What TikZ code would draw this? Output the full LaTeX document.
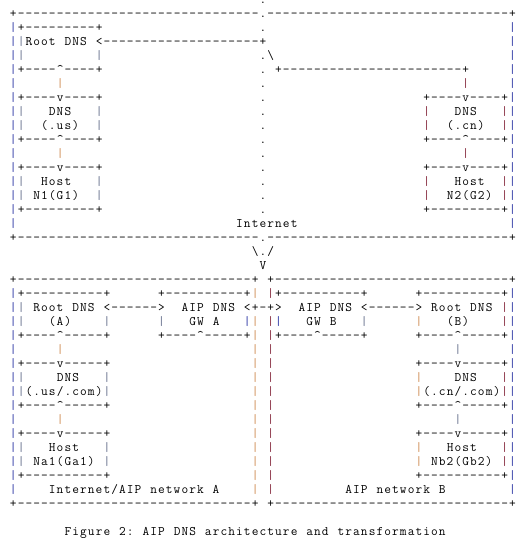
\documentclass[tikz,border=0pt]{standalone}
\usepackage{xcolor}
\definecolor{cb}{RGB}{35,45,160}
\definecolor{cg}{RGB}{95,105,135}
\definecolor{co}{RGB}{205,135,75}
\definecolor{cr}{RGB}{130,35,55}
\ExplSyntaxOn
\cs_new:Npn \Rp #1#2 { \prg_replicate:nn {#1} {#2} }
\ExplSyntaxOff
\protected\def\VB{\textcolor{cb}{|}}
\protected\def\VG{\textcolor{cg}{|}}
\protected\def\VO{\textcolor{co}{|}}
\protected\def\VR{\textcolor{cr}{|}}
\protected\def\CI{\textasciicircum}
\protected\def\BS{\textbackslash}
\def\stopchars{\stopchars}
\newcommand\cellbox[1]{\makebox[7.8pt][c]{\ifx*#1\else#1\fi}}
\def\charloop#1{\ifx#1\stopchars\else\cellbox{#1}\expandafter\charloop\fi}
\newcommand\asciirow[2]{\edef\rowtmp{#2}%
  \node[rowtxt] (r#1) at ({1.6pt},{-(14*#1+3.5)*1pt}) {\expandafter\charloop\rowtmp\stopchars};}
\tikzset{rowtxt/.style={anchor=base west, inner sep=0pt, outer sep=0pt,
  font=\ttfamily\fontsize{13pt}{14pt}\selectfont}}
\begin{document}
\begin{tikzpicture}
\fill[white] (0,0) rectangle (525pt,-546pt);
\useasboundingbox (0,0) rectangle (525pt,-546pt);
\asciirow{0}{\Rp{33}{*}.}
\asciirow{1}{*+\Rp{31}{-}.\Rp{31}{-}+}
\asciirow{2}{*\VB+\Rp{9}{-}+\Rp{20}{*}.\Rp{31}{*}\VB}
\asciirow{3}{*\VB\VG Root*DNS*<\Rp{20}{-}+\Rp{31}{*}\VB}
\asciirow{4}{*\VB\VG\Rp{9}{*}\VG\Rp{20}{*}.\BS\Rp{30}{*}\VB}
\asciirow{5}{*\VB+\Rp{4}{-}\CI\Rp{4}{-}+\Rp{20}{*}.*+\Rp{23}{-}+\Rp{5}{*}\VB}
\asciirow{6}{*\VB\Rp{5}{*}\VO\Rp{25}{*}.\Rp{25}{*}\VR\Rp{5}{*}\VB}
\asciirow{7}{*\VB+\Rp{4}{-}v\Rp{4}{-}+\Rp{20}{*}.\Rp{20}{*}+\Rp{4}{-}v\Rp{4}{-}+\VB}
\asciirow{8}{*\VB\VG\Rp{3}{*}DNS\Rp{3}{*}\VG\Rp{20}{*}.\Rp{20}{*}\VR\Rp{3}{*}DNS\Rp{3}{*}\VR\VB}
\asciirow{9}{*\VB\VG**(.us)**\VG\Rp{20}{*}.\Rp{20}{*}\VR**(.cn)**\VR\VB}
\asciirow{10}{*\VB+\Rp{4}{-}\CI\Rp{4}{-}+\Rp{20}{*}.\Rp{20}{*}+\Rp{4}{-}\CI\Rp{4}{-}+\VB}
\asciirow{11}{*\VB\Rp{5}{*}\VO\Rp{25}{*}.\Rp{25}{*}\VR\Rp{5}{*}\VB}
\asciirow{12}{*\VB+\Rp{4}{-}v\Rp{4}{-}+\Rp{20}{*}.\Rp{20}{*}+\Rp{4}{-}v\Rp{4}{-}+\VB}
\asciirow{13}{*\VB\VG**Host***\VG\Rp{20}{*}.\Rp{20}{*}\VR***Host**\VR\VB}
\asciirow{14}{*\VB\VG*N1(G1)**\VG\Rp{20}{*}.\Rp{20}{*}\VR**N2(G2)*\VR\VB}
\asciirow{15}{*\VB+\Rp{9}{-}+\Rp{20}{*}.\Rp{20}{*}+\Rp{9}{-}+\VB}
\asciirow{16}{*\VB\Rp{28}{*}Internet\Rp{27}{*}\VB}
\asciirow{17}{*+\Rp{31}{-}.\Rp{31}{-}+}
\asciirow{18}{\Rp{32}{*}\BS./}
\asciirow{19}{\Rp{33}{*}V}
\asciirow{20}{*+\Rp{30}{-}+*+\Rp{30}{-}+}
\asciirow{21}{*\VB+\Rp{10}{-}+\Rp{6}{*}+\Rp{10}{-}+\VO*\VR+\Rp{10}{-}+\Rp{6}{*}+\Rp{10}{-}+\VB}
\asciirow{22}{*\VB\VG*Root*DNS*<\Rp{6}{-}>**AIP*DNS*<+-+>**AIP*DNS*<\Rp{6}{-}>*Root*DNS*\VR\VB}
\asciirow{23}{*\VB\VG***(A)****\VG\Rp{6}{*}\VG***GW*A***\VB\VO*\VR\VB***GW*B***\VG\Rp{6}{*}\VO***(B)****\VR\VB}
\asciirow{24}{*\VB+\Rp{4}{-}\CI\Rp{5}{-}+\Rp{6}{*}+\Rp{4}{-}\CI\Rp{5}{-}+\VO*\VR+\Rp{4}{-}\CI\Rp{5}{-}+\Rp{6}{*}+\Rp{4}{-}\CI\Rp{5}{-}+\VB}
\asciirow{25}{*\VB\Rp{5}{*}\VO\Rp{24}{*}\VO*\VR\Rp{23}{*}\VG\Rp{6}{*}\VB}
\asciirow{26}{*\VB+\Rp{4}{-}v\Rp{5}{-}+\Rp{18}{*}\VO*\VR\Rp{18}{*}+\Rp{4}{-}v\Rp{5}{-}+\VB}
\asciirow{27}{*\VB\VG****DNS***\VG\Rp{18}{*}\VO*\VR\Rp{18}{*}\VO****DNS***\VR\VB}
\asciirow{28}{*\VB\VG(.us/.com)\VG\Rp{18}{*}\VO*\VR\Rp{18}{*}\VO(.cn/.com)\VR\VB}
\asciirow{29}{*\VB+\Rp{4}{-}\CI\Rp{5}{-}+\Rp{18}{*}\VO*\VR\Rp{18}{*}+\Rp{4}{-}\CI\Rp{5}{-}+\VB}
\asciirow{30}{*\VB\Rp{5}{*}\VO\Rp{24}{*}\VO*\VR\Rp{23}{*}\VG\Rp{6}{*}\VB}
\asciirow{31}{*\VB+\Rp{4}{-}v\Rp{5}{-}+\Rp{18}{*}\VO*\VR\Rp{18}{*}+\Rp{4}{-}v\Rp{5}{-}+\VB}
\asciirow{32}{*\VB\VG***Host***\VG\Rp{18}{*}\VO*\VR\Rp{18}{*}\VO***Host***\VR\VB}
\asciirow{33}{*\VB\VG*Na1(Ga1)*\VG\Rp{18}{*}\VO*\VR\Rp{18}{*}\VO*Nb2(Gb2)*\VR\VB}
\asciirow{34}{*\VB+\Rp{10}{-}+\Rp{18}{*}\VO*\VR\Rp{18}{*}+\Rp{10}{-}+\VB}
\asciirow{35}{*\VB****Internet/AIP*network*A****\VO*\VR\Rp{9}{*}AIP*network*B\Rp{8}{*}\VB}
\asciirow{36}{*+\Rp{30}{-}+*+\Rp{30}{-}+}
\asciirow{38}{\Rp{8}{*}Figure*2:*AIP*DNS*architecture*and*transformation}
\end{tikzpicture}
\end{document}
